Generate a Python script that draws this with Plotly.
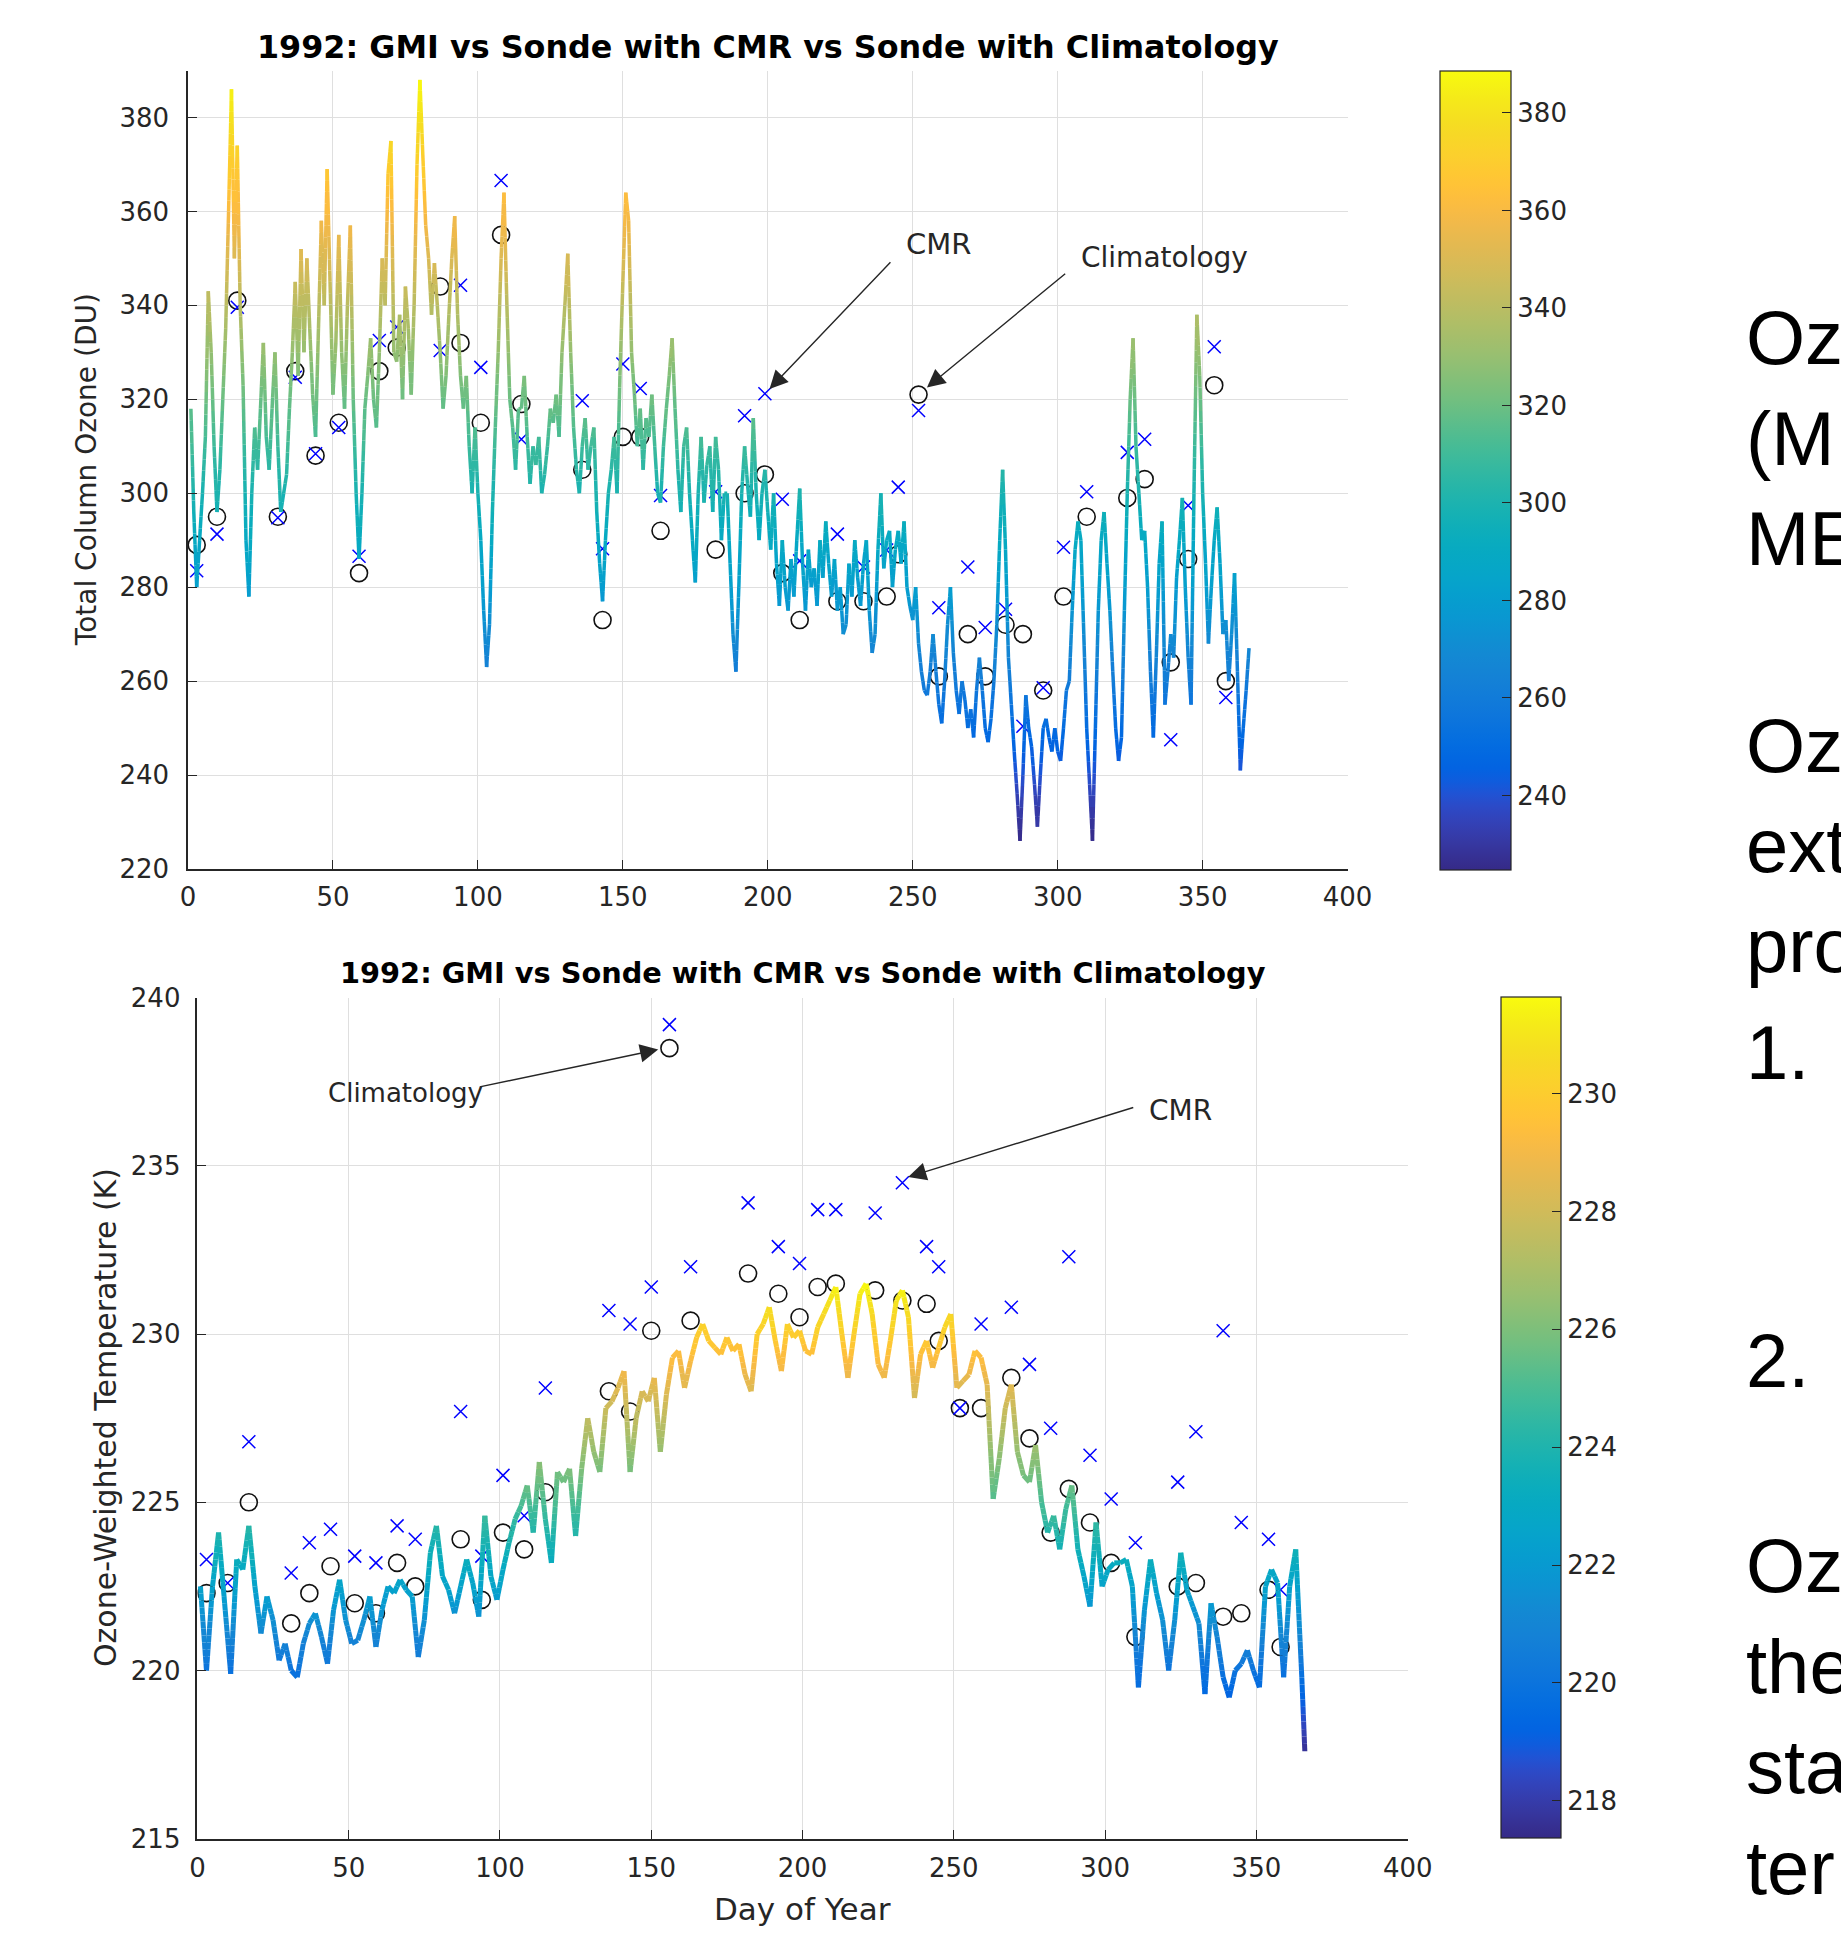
import math
import plotly.graph_objects as go

# ---------------- data ----------------
DAYS = list(range(1, 367))
GMI_OZONE = [
    318, 296, 280, 290, 300, 312, 343, 330, 310, 296,
    305, 320, 335, 360, 386, 350, 374, 340, 323, 290,
    278, 300, 314, 305, 318, 332, 312, 305, 318, 330,
    310, 296, 300, 304, 318, 330, 345, 325, 352, 330,
    350, 335, 321, 312, 335, 358, 340, 369, 345, 321,
    332, 355, 330, 318, 340, 357, 320, 300, 286, 300,
    318, 325, 333, 320, 314, 330, 350, 340, 368, 375,
    330, 328, 338, 320, 344, 335, 321, 340, 370, 388,
    372, 357, 350, 338, 349, 340, 330, 318, 325, 338,
    350, 359, 338, 325, 318, 325, 310, 300, 314, 300,
    290, 275, 263, 272, 296, 314, 330, 350, 364, 340,
    320, 314, 305, 318, 318, 325, 312, 302, 310, 306,
    312, 300, 304, 310, 318, 315, 321, 312, 330, 340,
    351, 330, 314, 305, 300, 310, 316, 305, 310, 314,
    296, 285, 277, 290, 300, 305, 312, 300, 325, 345,
    364, 358, 330, 321, 310, 318, 305, 316, 312, 321,
    310, 300, 298, 310, 318, 325, 333, 318, 305, 296,
    310, 314, 300, 290, 281, 300, 312, 298, 306, 310,
    296, 312, 305, 290, 300, 300, 285, 270, 262, 280,
    300, 310, 302, 295, 316, 300, 290, 300, 305, 296,
    288, 300, 285, 276, 290, 280, 275, 286, 278, 290,
    301, 285, 275, 288, 280, 284, 276, 290, 282, 294,
    285, 278, 286, 275, 280, 270, 272, 285, 278, 290,
    282, 276, 285, 290, 275, 266, 270, 288, 300, 284,
    290, 292, 280, 288, 292, 285, 294, 280, 276, 273,
    280, 268, 262, 258, 257, 262, 270, 262, 255, 251,
    260, 272, 280, 266, 258, 253, 260, 256, 250, 254,
    248, 258, 265, 258, 250, 247, 252, 260, 272, 290,
    305, 288, 265, 255, 245, 236, 226, 240, 257, 250,
    246, 238, 229, 240, 250, 252, 248, 245, 250, 245,
    243, 250, 258, 260, 275, 288, 294, 290, 270, 250,
    238, 226, 250, 275, 290, 296, 285, 275, 262, 250,
    243, 248, 275, 300, 320, 333, 310, 300, 290, 292,
    280, 262, 248, 265, 285, 294, 255, 262, 270, 265,
    282, 290, 299, 280, 265, 255, 300, 338, 325, 300,
    285, 268, 280, 290, 297, 285, 270, 273, 260, 270,
    283, 262, 241, 250, 258, 267,
]

DAYS_T = list(range(1, 366, 2)) + [366]
GMI_TEMP = [
    222.5, 220.0, 222.5, 224.1, 222.0, 219.9, 223.3, 223.0, 224.3, 222.5,
    221.1, 222.2, 221.5, 220.3, 220.8, 220.0, 219.8, 220.8, 221.4, 221.7,
    221.0, 220.2, 221.8, 222.7, 221.5, 220.8, 220.9, 221.5, 222.2, 220.7,
    221.8, 222.5, 222.3, 222.7, 222.4, 222.2, 220.4, 221.5, 223.5, 224.3,
    222.8, 222.4, 221.7, 222.5, 223.3, 222.6, 221.6, 224.6, 222.8, 222.1,
    223.0, 223.8, 224.5, 224.9, 225.5, 224.1, 226.2, 224.5, 223.2, 225.9,
    225.6, 226.0, 224.0, 226.0, 227.5, 226.5, 225.9, 227.8, 228.0, 228.4,
    228.9, 225.9, 227.5, 228.3, 228.0, 228.7, 226.5, 228.2, 229.3, 229.5,
    228.4, 229.2, 229.9, 230.3, 229.8, 229.6, 229.4, 229.9, 229.5, 229.7,
    228.8, 228.3, 230.0, 230.3, 230.8, 229.8, 228.9, 230.3, 229.9, 230.1,
    229.5, 229.4, 230.2, 230.6, 231.0, 231.4, 230.0, 228.7, 230.0, 231.2,
    231.5, 230.6, 229.1, 228.7, 229.8, 231.0, 231.3, 230.5, 228.1, 229.4,
    229.8, 229.0, 229.6, 230.2, 230.6, 228.4, 228.6, 228.8, 229.5, 229.3,
    228.5, 225.1, 226.3, 227.8, 228.5, 226.5, 225.8, 225.6, 226.7, 225.0,
    224.1, 224.6, 223.6, 224.8, 225.5, 223.6, 222.8, 221.9, 224.4, 222.5,
    223.0, 223.2, 223.2, 223.3, 222.5, 219.5, 221.8, 223.3, 222.3, 221.5,
    220.0, 221.5, 223.5, 222.4, 221.9, 221.4, 219.3, 222.0, 221.0, 219.8,
    219.2, 220.0, 220.2, 220.6, 220.0, 219.5, 222.5, 223.0, 222.6, 219.8,
    222.5, 223.6, 219.8, 217.6,
]

SONDE_DAYS = [3, 10, 17, 31, 37, 44, 52, 59, 66, 72, 87, 94, 101, 108, 115,
              136, 143, 150, 156, 163, 182, 192, 199, 205, 211, 224, 233, 241,
              245, 252, 259, 269, 275, 282, 288, 295, 302, 310, 324, 330, 339,
              345, 354, 358]
CLIM_OZONE = [289, 295, 341, 295, 326, 308, 315, 283, 326, 331, 344, 332, 315,
              355, 319, 305, 273, 312, 312, 292, 288, 300, 304, 283, 273, 277,
              277, 278, 287, 321, 261, 270, 261, 272, 270, 258, 278, 295, 299,
              303, 264, 286, 323, 260]
CMR_OZONE = [283.5, 291.3, 339.6, 294.8, 324.7, 308.4, 314, 286.6, 332.5, 335.4,
             330.4, 344.3, 326.8, 366.6, 311.5, 319.7, 288.2, 327.5, 322.3, 299.5,
             300.3, 316.5, 321.2, 298.7, 285.6, 291.3, 284.3, 287.9, 301.3, 317.6,
             275.6, 284.3, 271.4, 275.3, 250.4, 258.6, 288.5, 300.3, 308.7, 311.5,
             247.5, 297.4, 331.2, 256.5]
CLIM_TEMP = [222.3, 222.6, 225.0, 221.4, 222.3, 223.1, 222.0, 221.7, 223.2, 222.5,
             223.9, 222.1, 224.1, 223.6, 225.3, 228.3, 227.7, 230.1, 238.5, 230.4,
             231.8, 231.2, 230.5, 231.4, 231.5, 231.3, 231.0, 230.9, 229.8, 227.8,
             227.8, 228.7, 226.9, 224.1, 225.4, 224.4, 223.2, 221.0, 222.5, 222.6,
             221.6, 221.7, 222.4, 220.7]
CMR_TEMP = [223.3, 222.6, 226.8, 222.9, 223.8, 224.2, 223.4, 223.2, 224.3, 223.9,
            227.7, 223.4, 225.8, 224.6, 228.4, 230.7, 230.3, 231.4, 239.2, 232.0,
            233.9, 232.6, 232.1, 233.7, 233.7, 233.6, 234.5, 232.6, 232.0, 227.8,
            230.3, 230.8, 229.1, 227.2, 232.3, 226.4, 225.1, 223.8, 225.6, 227.1,
            230.1, 224.4, 223.9, 222.4]

OZ_CRANGE = [224.8, 388.7]
T_CRANGE = [217.36, 231.63]
OZ_CTICKS = [240, 260, 280, 300, 320, 340, 360, 380]
T_CTICKS = [218, 220, 222, 224, 226, 228, 230]

TITLE = "1992: GMI vs Sonde with CMR vs Sonde with Climatology"
SLIDE_LINES = ["Oz", "(M", "ME", "Oz", "ext", "pro", "1.", "2.", "Oz", "the", "sta", "ter"]
SLIDE_BASELINES = [364, 465, 565, 772, 872, 972, 1079, 1387, 1592, 1693, 1793, 1894]

# ---------------- styling ----------------
W, H = 1841, 1937
PARULA = [
    [0.2081, 0.1663, 0.5292], [0.2116, 0.1898, 0.5777], [0.2123, 0.2138, 0.6270],
    [0.2081, 0.2386, 0.6771], [0.1959, 0.2645, 0.7279], [0.1707, 0.2919, 0.7792],
    [0.1253, 0.3242, 0.8303], [0.0591, 0.3598, 0.8683], [0.0117, 0.3875, 0.8820],
    [0.0060, 0.4086, 0.8828], [0.0165, 0.4266, 0.8786], [0.0329, 0.4430, 0.8720],
    [0.0498, 0.4586, 0.8641], [0.0629, 0.4737, 0.8554], [0.0723, 0.4887, 0.8467],
    [0.0779, 0.5040, 0.8384], [0.0793, 0.5200, 0.8312], [0.0749, 0.5375, 0.8263],
    [0.0641, 0.5570, 0.8240], [0.0488, 0.5772, 0.8228], [0.0343, 0.5966, 0.8199],
    [0.0265, 0.6137, 0.8135], [0.0239, 0.6287, 0.8038], [0.0231, 0.6418, 0.7913],
    [0.0228, 0.6535, 0.7768], [0.0267, 0.6642, 0.7607], [0.0384, 0.6743, 0.7436],
    [0.0590, 0.6838, 0.7254], [0.0843, 0.6928, 0.7062], [0.1133, 0.7015, 0.6859],
    [0.1453, 0.7098, 0.6646], [0.1801, 0.7177, 0.6424], [0.2178, 0.7250, 0.6193],
    [0.2586, 0.7317, 0.5954], [0.3022, 0.7376, 0.5712], [0.3482, 0.7424, 0.5473],
    [0.3953, 0.7459, 0.5244], [0.4420, 0.7481, 0.5033], [0.4871, 0.7491, 0.4840],
    [0.5300, 0.7491, 0.4661], [0.5709, 0.7485, 0.4494], [0.6099, 0.7473, 0.4337],
    [0.6473, 0.7456, 0.4188], [0.6834, 0.7435, 0.4044], [0.7184, 0.7411, 0.3905],
    [0.7525, 0.7384, 0.3768], [0.7858, 0.7356, 0.3633], [0.8185, 0.7327, 0.3498],
    [0.8507, 0.7299, 0.3360], [0.8824, 0.7274, 0.3217], [0.9139, 0.7258, 0.3063],
    [0.9450, 0.7261, 0.2886], [0.9739, 0.7314, 0.2666], [0.9938, 0.7455, 0.2403],
    [0.9990, 0.7653, 0.2164], [0.9955, 0.7861, 0.1967], [0.9880, 0.8066, 0.1794],
    [0.9789, 0.8271, 0.1633], [0.9697, 0.8481, 0.1475], [0.9626, 0.8705, 0.1309],
    [0.9589, 0.8949, 0.1132], [0.9598, 0.9218, 0.0948], [0.9661, 0.9514, 0.0755],
    [0.9763, 0.9831, 0.0538],
]


def rgb(c):
    return "rgb(%d,%d,%d)" % tuple(round(255 * v) for v in c)


PARULA_CS = [[i / (len(PARULA) - 1), rgb(c)] for i, c in enumerate(PARULA)]


def parula(t):
    t = min(1.0, max(0.0, t))
    p = t * (len(PARULA) - 1)
    i = min(int(p), len(PARULA) - 2)
    f = p - i
    return rgb([PARULA[i][k] * (1 - f) + PARULA[i + 1][k] * f for k in range(3)])


AX = "#262626"
GRID = "#dfdfdf"
FONT = "DejaVu Sans"

fig = go.Figure()


def gradient_line(x, y, crange, xa, ya, width, nbins=64):
    cmin, cmax = crange
    step = (cmax - cmin) / nbins
    bins = {}
    for i in range(len(x) - 1):
        x0, y0, x1, y1 = x[i], y[i], x[i + 1], y[i + 1]
        n = max(1, math.ceil(abs(y1 - y0) / step))
        for k in range(n):
            xa0 = x0 + (x1 - x0) * k / n
            xa1 = x0 + (x1 - x0) * (k + 1) / n
            ya0 = y0 + (y1 - y0) * k / n
            ya1 = y0 + (y1 - y0) * (k + 1) / n
            t = ((ya0 + ya1) / 2 - cmin) / (cmax - cmin)
            b = min(nbins - 1, max(0, int(t * nbins)))
            xs, ys = bins.setdefault(b, ([], []))
            xs.extend([xa0, xa1, None])
            ys.extend([ya0, ya1, None])
    for b in sorted(bins):
        xs, ys = bins[b]
        fig.add_trace(go.Scatter(
            x=xs, y=ys, mode="lines", xaxis=xa, yaxis=ya,
            line=dict(color=parula((b + 0.5) / nbins), width=width),
            showlegend=False, hoverinfo="skip"))


def markers(x, clim, cmr, xa, ya):
    fig.add_trace(go.Scatter(
        x=x, y=clim, mode="markers", xaxis=xa, yaxis=ya, name="Climatology",
        marker=dict(symbol="circle-open", size=17, color="#111111", line=dict(width=1.6)),
        showlegend=False))
    fig.add_trace(go.Scatter(
        x=x, y=cmr, mode="markers", xaxis=xa, yaxis=ya, name="CMR",
        marker=dict(symbol="x-thin-open", size=13, color="#0000ff", line=dict(width=1.5)),
        showlegend=False))


def colorbar_trace(crange, ticks, xa, ya, x_px, top_px, bot_px, thick):
    fig.add_trace(go.Scatter(
        x=[-100], y=[crange[0]], mode="markers", xaxis=xa, yaxis=ya,
        marker=dict(color=[crange[0]], colorscale=PARULA_CS, cmin=crange[0], cmax=crange[1],
                    opacity=0, showscale=True,
                    colorbar=dict(
                        x=x_px / W, xanchor="left", y=1 - top_px / H, yanchor="top",
                        len=bot_px - top_px, lenmode="pixels",
                        thickness=thick, thicknessmode="pixels",
                        xpad=0, ypad=0, outlinecolor=AX, outlinewidth=1.2,
                        ticks="inside", ticklen=9, tickcolor=AX, tickwidth=1.2,
                        tickvals=ticks, tickprefix="\u2009",
                        tickfont=dict(family=FONT, size=26, color=AX))),
        showlegend=False, hoverinfo="skip"))


# ---------- top panel ----------
markers(SONDE_DAYS, CLIM_OZONE, CMR_OZONE, "x", "y")
gradient_line(DAYS, GMI_OZONE, OZ_CRANGE, "x", "y", 3.5)
colorbar_trace(OZ_CRANGE, OZ_CTICKS, "x", "y", 1439.5, 70.5, 869, 71)

# ---------- bottom panel ----------
markers(SONDE_DAYS, CLIM_TEMP, CMR_TEMP, "x2", "y2")
gradient_line(DAYS_T, GMI_TEMP, T_CRANGE, "x2", "y2", 5)
colorbar_trace(T_CRANGE, T_CTICKS, "x2", "y2", 1500.5, 997.5, 1838.6, 60)

axis_common = dict(
    showline=True, linecolor=AX, linewidth=1.5, mirror=False,
    ticks="inside", ticklen=9, tickwidth=1.2, tickcolor=AX,
    showgrid=True, gridcolor=GRID, gridwidth=1, zeroline=False,
    tickfont=dict(family=FONT, size=26, color=AX),
)

fig.update_layout(
    width=W, height=H, margin=dict(l=0, r=0, t=0, b=0, autoexpand=False),
    paper_bgcolor="white", plot_bgcolor="white", showlegend=False,
    xaxis=dict(domain=[188 / W, 1347.6 / W], range=[0, 400], dtick=50, anchor="y",
               ticklabelstandoff=4, **axis_common),
    yaxis=dict(domain=[1 - 869 / H, 1 - 70.5 / H], range=[220, 390],
               tickvals=[220, 240, 260, 280, 300, 320, 340, 360, 380], anchor="x",
               ticklabelstandoff=12, **axis_common),
    xaxis2=dict(domain=[197.4 / W, 1407.7 / W], range=[0, 400], dtick=50, anchor="y2",
                ticklabelstandoff=5, **axis_common),
    yaxis2=dict(domain=[1 - 1838.7 / H, 1 - 997.7 / H], range=[215, 240], dtick=5,
                anchor="x2", ticklabelstandoff=10, **axis_common),
)

ann = []
# titles
ann.append(dict(text="<b>" + TITLE + "</b>", xref="paper", yref="paper",
                x=767.8 / W, y=1 - 46 / H, xanchor="center", yanchor="middle",
                showarrow=False, font=dict(family=FONT, size=31.8, color="#000000")))
ann.append(dict(text="<b>" + TITLE + "</b>", xref="paper", yref="paper",
                x=802.5 / W, y=1 - 973 / H, xanchor="center", yanchor="middle",
                showarrow=False, font=dict(family=FONT, size=28.8, color="#000000")))
# axis titles
ann.append(dict(text="Total Column Ozone (DU)", xref="paper", yref="paper",
                x=86.5 / W, y=1 - 469.7 / H, textangle=-90, xanchor="center", yanchor="middle",
                showarrow=False, font=dict(family=FONT, size=28, color=AX)))
ann.append(dict(text="Ozone-Weighted Temperature (K)", xref="paper", yref="paper",
                x=105 / W, y=1 - 1418 / H, textangle=-90, xanchor="center", yanchor="middle",
                showarrow=False, font=dict(family=FONT, size=30, color=AX)))
ann.append(dict(text="Day of Year", xref="paper", yref="paper",
                x=802.5 / W, y=1 - 1909 / H, xanchor="center", yanchor="middle",
                showarrow=False, font=dict(family=FONT, size=31, color=AX)))


# in-plot labels and arrows
def label(text, x, y, xa, ya, size):
    ann.append(dict(text=text, xref=xa, yref=ya, x=x, y=y, xanchor="left", yanchor="middle",
                    showarrow=False, borderpad=0, font=dict(family=FONT, size=size, color=AX)))


def arrow(hx, hy, tx, ty, xa, ya):
    ann.append(dict(text="", xref=xa, yref=ya, x=hx, y=hy, ax=tx, ay=ty, axref=xa, ayref=ya,
                    showarrow=True, arrowhead=2, arrowsize=2.6, arrowwidth=1.4,
                    arrowcolor=AX, standoff=0))


label("CMR", 247.4, 353.0, "x", "y", 29)
arrow(200.6, 322.2, 242.8, 349.5, "x", "y")
label("Climatology", 307.7, 350.2, "x", "y", 28)
arrow(254.9, 322.5, 303.1, 347.0, "x", "y")
label("Climatology", 42.7, 237.18, "x2", "y2", 26)
arrow(152.3, 238.46, 92.8, 237.34, "x2", "y2")
label("CMR", 314.2, 236.66, "x2", "y2", 28)
arrow(234.9, 234.67, 309.8, 236.75, "x2", "y2")

# slide text, cut by the right edge of the page as in the reference
SLIDE_SIZE = 76
for txt, base in zip(SLIDE_LINES, SLIDE_BASELINES):
    ann.append(dict(text=txt, xref="paper", yref="paper", x=1745 / W,
                    y=1 - (base - 0.3465 * SLIDE_SIZE) / H, xanchor="left", yanchor="middle",
                    showarrow=False, borderpad=0,
                    font=dict(family="Liberation Sans", size=SLIDE_SIZE, color="#000000")))

fig.update_layout(annotations=ann)
fig.write_html("out.html")
